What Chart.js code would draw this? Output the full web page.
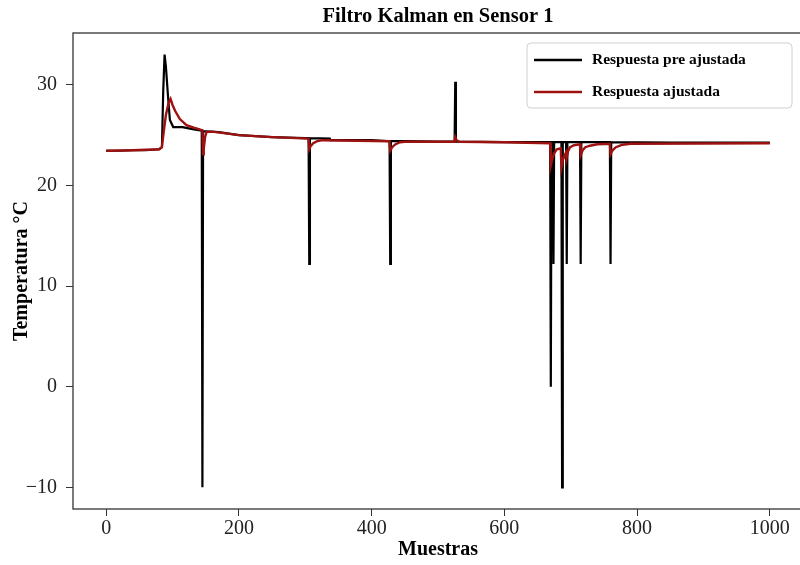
<!DOCTYPE html>
<html>
<head>
<meta charset="utf-8">
<script src="https://cdn.jsdelivr.net/npm/chart.js@4.4.0/dist/chart.umd.min.js"></script>
<style>
  html, body { margin: 0; padding: 0; background: #fff; overflow: hidden; }
  #wrap { width: 806px; height: 565px; }
</style>
</head>
<body>
<div id="wrap"><canvas id="chart" width="806" height="565"></canvas></div>
<script>
// sample index / temperature pairs
const preX = [0, 20, 40, 60, 80, 84, 86, 88, 90, 93, 96, 101, 115, 130, 144, 145, 146, 147, 170, 200, 250, 300, 305, 306, 307, 337, 338, 400, 427, 428, 429, 450, 500, 525, 526, 527, 600, 669, 670, 671, 673, 674, 675, 686, 687, 688, 693, 694, 695, 714, 715, 716, 759, 760, 761, 850, 1000]
const preY = [23.45, 23.45, 23.5, 23.5, 23.6, 23.8, 29.5, 33.0, 31.8, 29.0, 26.5, 25.8, 25.8, 25.6, 25.45, -10, 25.4, 25.4, 25.3, 25.0, 24.8, 24.7, 24.7, 12.2, 24.7, 24.65, 24.5, 24.5, 24.4, 12.2, 24.4, 24.4, 24.35, 24.35, 30.3, 24.35, 24.3, 24.3, 0, 24.3, 24.3, 12.2, 24.3, 24.3, -10, 24.3, 24.3, 12.2, 24.3, 24.3, 12.2, 24.3, 24.3, 12.2, 24.3, 24.25, 24.25]

const adjX = [0, 40, 80, 84, 87, 90, 94, 97, 100, 104, 111, 121, 132, 142, 145, 146, 147, 149, 151, 160, 200, 250, 305, 306, 308, 312, 318, 327, 380, 427, 428, 431, 436, 443, 450, 525, 526, 528, 532, 600, 669, 670, 672, 675, 679, 685, 686, 688, 691, 693, 694, 696, 699, 705, 714, 715, 718, 722, 729, 740, 759, 760, 763, 768, 778, 790, 1000]
const adjY = [23.45, 23.5, 23.6, 23.8, 25.5, 27.0, 28.2, 28.6, 28.0, 27.4, 26.6, 26.0, 25.75, 25.55, 25.5, 23.1, 23.6, 24.8, 25.3, 25.35, 25.0, 24.8, 24.65, 23.6, 23.9, 24.2, 24.4, 24.5, 24.45, 24.4, 23.45, 23.8, 24.1, 24.3, 24.35, 24.35, 24.8, 24.5, 24.35, 24.3, 24.2, 22.0, 22.6, 23.2, 23.6, 23.7, 21.8, 22.5, 23.0, 23.3, 22.8, 23.4, 23.8, 24.0, 24.1, 23.0, 23.5, 23.8, 23.95, 24.1, 24.15, 23.1, 23.5, 23.8, 24.05, 24.15, 24.2]

const xTicks = [0, 200, 400, 600, 800, 1000]
const yTicks = [-10, 0, 10, 20, 30]

const seriesNames = ['Respuesta pre ajustada', 'Respuesta ajustada']
const chartTitle = 'Filtro Kalman en Sensor 1'

const serif = "'Liberation Serif', 'DejaVu Serif', serif"

function pairs(xs, ys) {
	return xs.map((x, i) => ({x: x, y: ys[i]}))
}

// title, frame and legend box in matplotlib style
const decor = {
	id: 'decor',
	afterDatasetsDraw(chart) {
		const ctx = chart.ctx
		const a = chart.chartArea
		ctx.save()
		ctx.strokeStyle = '#333'
		ctx.lineWidth = 1.3
		ctx.strokeRect(a.left, a.top, a.right - a.left, a.bottom - a.top)

		ctx.fillStyle = '#000'
		ctx.font = 'bold 20.5px ' + serif
		ctx.textAlign = 'center'
		ctx.textBaseline = 'middle'
		ctx.fillText(chartTitle, (a.left + a.right) / 2, 17)

		// legend
		const bw = 265, bh = 65
		const bx = a.right - 11 - bw, by = a.top + 10
		ctx.beginPath()
		ctx.roundRect(bx, by, bw, bh, 4)
		ctx.fillStyle = 'rgba(255,255,255,0.85)'
		ctx.fill()
		ctx.strokeStyle = '#d0d0d0'
		ctx.lineWidth = 1
		ctx.stroke()
		ctx.font = 'bold 15.5px ' + serif
		ctx.textAlign = 'left'
		chart.data.datasets.forEach((ds, i) => {
			const ly = by + 17 + i * 32
			ctx.beginPath()
			ctx.moveTo(bx + 7, ly)
			ctx.lineTo(bx + 55, ly)
			ctx.strokeStyle = ds.borderColor
			ctx.lineWidth = 2.4
			ctx.stroke()
			ctx.fillStyle = '#000'
			ctx.fillText(ds.label, bx + 65, ly)
		})
		ctx.restore()
	}
}

new Chart(document.getElementById('chart'), {
	type: 'scatter',
	data: {
		datasets: [
			{
				label: seriesNames[0],
				data: pairs(preX, preY),
				showLine: true,
				borderColor: '#000000',
				borderWidth: 2.2,
				pointRadius: 0,
				order: 2
			},
			{
				label: seriesNames[1],
				data: pairs(adjX, adjY),
				showLine: true,
				borderColor: '#9e1111',
				borderWidth: 2.4,
				pointRadius: 0,
				order: 1
			}
		]
	},
	options: {
		responsive: false,
		animation: false,
		layout: {padding: {top: 33, right: 3, left: 0, bottom: 0}},
		plugins: {
			legend: {display: false},
			tooltip: {enabled: false},
			title: {display: false}
		},
		scales: {
			x: {
				type: 'linear',
				min: -50,
				max: 1050,
				afterBuildTicks: s => { s.ticks = xTicks.map(v => ({value: v})) },
				afterFit: s => { s.height = 56 },
				grid: {drawOnChartArea: false, drawTicks: true, tickLength: 7, color: '#333'},
				border: {display: false},
				ticks: {color: '#222', padding: 1, font: {family: serif, size: 20}, maxRotation: 0, callback: v => String(v)},
				title: {display: true, text: 'Muestras', color: '#000', padding: {top: 0, bottom: 3}, font: {family: serif, size: 20, weight: 'bold'}}
			},
			y: {
				min: -12.15,
				max: 35.15,
				afterBuildTicks: s => { s.ticks = yTicks.map(v => ({value: v})) },
				afterFit: s => { s.width = 73 },
				grid: {drawOnChartArea: false, drawTicks: true, tickLength: 7, color: '#333'},
				border: {display: false},
				ticks: {
					color: '#222', padding: 9, font: {family: serif, size: 20},
					callback: v => v < 0 ? '\u2212' + Math.abs(v) : String(v)
				},
				title: {display: true, text: 'Temperatura °C', color: '#000', padding: {top: 10, bottom: 0}, font: {family: serif, size: 20, weight: 'bold'}}
			}
		}
	},
	plugins: [decor]
})
</script>
</body>
</html>
